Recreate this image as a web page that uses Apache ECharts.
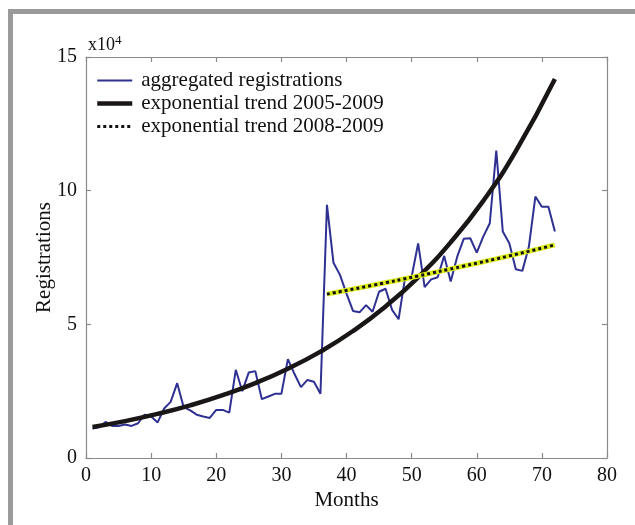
<!DOCTYPE html>
<html>
<head>
<meta charset="utf-8">
<script src="https://cdn.jsdelivr.net/npm/echarts@6/dist/echarts.min.js"></script>
<style>
  html, body { margin: 0; padding: 0; background: #fff; }
  #chart { width: 635px; height: 525px; }
</style>
</head>
<body>
<div id="chart"></div>
<script>
// Monthly aggregated registrations (units of 10^4), months 1..72
const months = Array.from({ length: 72 }, (_, i) => i + 1);
const registrations = [
  1.10, 1.15, 1.35, 1.20, 1.20, 1.25, 1.20, 1.30, 1.62, 1.55,
  1.33, 1.85, 2.10, 2.80, 1.90, 1.78, 1.62, 1.55, 1.50, 1.80,
  1.80, 1.70, 3.30, 2.50, 3.20, 3.25, 2.20, 2.30, 2.40, 2.40,
  3.70, 3.15, 2.65, 2.92, 2.85, 2.40, 9.47, 7.30, 6.85, 6.15,
  5.50, 5.45, 5.72, 5.47, 6.22, 6.33, 5.54, 5.19, 6.76, 6.78,
  8.03, 6.39, 6.68, 6.76, 7.56, 6.60, 7.53, 8.20, 8.22, 7.68,
  8.28, 8.78, 11.50, 8.47, 8.03, 7.06, 7.00, 7.90, 9.78, 9.40,
  9.40, 8.47
];

// Exponential trend 2005-2009, sampled along the fitted curve
const trendAllMonths = [1, 6, 11, 16, 21, 26, 31, 36, 41, 46, 51, 56, 61, 66, 72];
const trendAllValues = [1.16, 1.38, 1.65, 1.97, 2.35, 2.80, 3.34, 3.98, 4.75, 5.67, 6.76, 8.07, 9.62, 11.48, 14.18];

// Exponential trend 2008-2009
const trendLateMonths = [37, 44, 51, 58, 65, 72];
const trendLateValues = [6.13, 6.46, 6.81, 7.18, 7.56, 7.97];

const xTicks = { min: 0, max: 80, interval: 10 };
const yTicks = { min: 0, max: 15, interval: 5 };

const seriesNames = [
  'aggregated registrations',
  'exponential trend 2005-2009',
  'exponential trend 2008-2009'
];

const pair = (xs, ys) => xs.map((x, i) => [x, ys[i]]);

const serif = '"Liberation Serif", "Times New Roman", serif';
const axisGray = '#8a8a8a';
const blue = '#2e3192';
const black = '#1a1616';

const baseAxis = {
  type: 'value',
  axisLine: { show: true, onZero: false, lineStyle: { color: axisGray, width: 1.2 } },
  axisTick: { show: true, inside: true, length: 5, lineStyle: { color: axisGray, width: 1.2 } },
  splitLine: { show: false },
  axisLabel: { color: '#111', fontFamily: serif, fontSize: 20 }
};

const chart = echarts.init(document.getElementById('chart'), null, { renderer: 'canvas' });

chart.setOption({
  animation: false,
  backgroundColor: '#fff',
  grid: { left: 86, top: 57, right: 28, bottom: 67, containLabel: false },
  xAxis: [
    Object.assign({}, baseAxis, xTicks, {
      position: 'bottom',
      name: 'Months',
      nameLocation: 'middle',
      nameGap: 32,
      nameMoveOverlap: false,
      nameTextStyle: { color: '#111', fontFamily: serif, fontSize: 21 },
      axisLabel: Object.assign({}, baseAxis.axisLabel, { margin: 8 })
    }),
    Object.assign({}, baseAxis, xTicks, {
      position: 'top',
      axisLabel: { show: false }
    })
  ],
  yAxis: [
    Object.assign({}, baseAxis, yTicks, {
      position: 'left',
      name: 'Registrations',
      nameLocation: 'middle',
      nameGap: 31,
      nameMoveOverlap: false,
      nameTextStyle: { color: '#111', fontFamily: serif, fontSize: 21 },
      axisLabel: Object.assign({}, baseAxis.axisLabel, { margin: 9 })
    }),
    Object.assign({}, baseAxis, yTicks, {
      position: 'right',
      axisLabel: { show: false }
    })
  ],
  legend: {
    show: true,
    orient: 'vertical',
    left: 95,
    top: 70,
    padding: 0,
    itemGap: 2,
    itemWidth: 35,
    itemHeight: 12,
    data: [
      { name: seriesNames[0], lineStyle: { width: 2 } },
      { name: seriesNames[1], lineStyle: { width: 4.5 } },
      { name: seriesNames[2], lineStyle: { width: 3 } }
    ],
    itemStyle: { opacity: 0, borderWidth: 0 },
    textStyle: { color: '#111', fontFamily: serif, fontSize: 21, lineHeight: 21, padding: [0, 0, 0, 4] }
  },
  series: [
    {
      name: seriesNames[0],
      type: 'line',
      data: pair(months, registrations),
      symbol: 'none',
      lineStyle: { color: blue, width: 2 },
      itemStyle: { color: blue },
      z: 3
    },
    {
      name: seriesNames[1],
      type: 'line',
      data: pair(trendAllMonths, trendAllValues),
      smooth: true,
      symbol: 'none',
      lineStyle: { color: black, width: 4.5 },
      itemStyle: { color: black },
      z: 4
    },
    {
      name: 'trend-2008-2009-base',
      type: 'line',
      data: pair(trendLateMonths, trendLateValues),
      smooth: true,
      symbol: 'none',
      lineStyle: { color: '#dcec1e', width: 5 },
      itemStyle: { color: '#dcec1e' },
      z: 5
    },
    {
      name: seriesNames[2],
      type: 'line',
      data: pair(trendLateMonths, trendLateValues),
      smooth: true,
      symbol: 'none',
      lineStyle: { color: '#111', width: 3, type: [3, 3] },
      itemStyle: { color: '#111' },
      z: 6
    }
  ],
  graphic: [
    // grey frame along the top and left edges
    { type: 'rect', shape: { x: 8, y: 9, width: 627, height: 5 }, style: { fill: '#9a9a9a' }, silent: true },
    { type: 'rect', shape: { x: 8, y: 9, width: 5, height: 516 }, style: { fill: '#9a9a9a' }, silent: true },
    // axis multiplier
    {
      type: 'text',
      left: 88,
      top: 34,
      style: {
        text: '{a|x10}{b|4}',
        rich: {
          a: { fontFamily: serif, fontSize: 18, fill: '#111', verticalAlign: 'bottom', lineHeight: 20 },
          b: { fontFamily: serif, fontSize: 13, fill: '#111', verticalAlign: 'top', lineHeight: 20, padding: [0, 0, 8, 0] }
        }
      }
    }
  ]
});
</script>
</body>
</html>
